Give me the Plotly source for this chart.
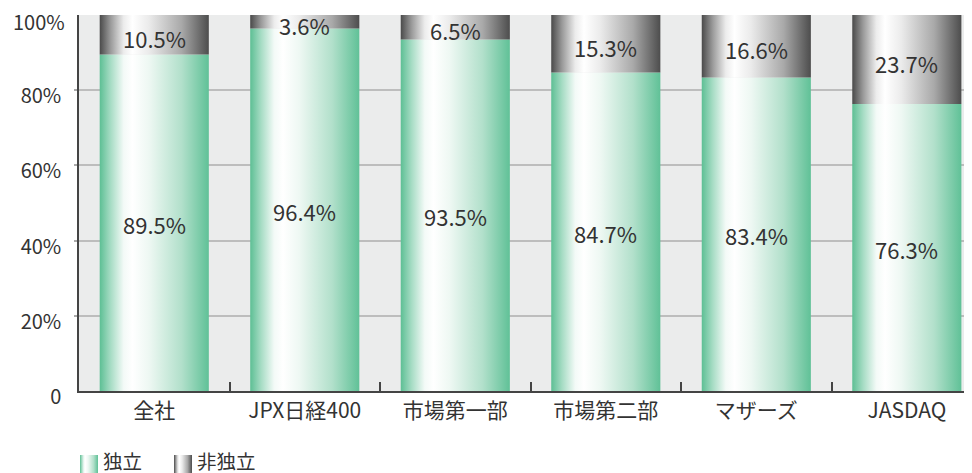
import plotly.graph_objects as go

categories = ["全社", "JPX日経400", "市場第一部", "市場第二部", "マザーズ", "JASDAQ"]
independent = [89.5, 96.4, 93.5, 84.7, 83.4, 76.3]
non_independent = [10.5, 3.6, 6.5, 15.3, 16.6, 23.7]
series_names = ["独立", "非独立"]
y_ticks = [0, 20, 40, 60, 80]
y_ticktext = ["0", "20%", "40%", "60%", "80%"]
y_top_tick = (100, "100%")
grid_vals = [20, 40, 60, 80]

FONT = "Noto Sans CJK JP"
BAR_W = 0.725
TXT = "#333333"

green_scale = [[0.0, "#5dbf94"], [0.1, "#a6dcc4"], [0.22, "#f3faf7"], [0.3, "#ffffff"],
               [0.45, "#eef8f3"], [0.75, "#b2e0cb"], [1.0, "#60c197"]]
gray_scale = [[0.0, "#4a4a4a"], [0.1, "#9a9a9a"], [0.22, "#ececec"], [0.3, "#ffffff"],
              [0.45, "#ebebeb"], [0.75, "#a9a9a9"], [1.0, "#4d4d4d"]]
scales = [green_scale, gray_scale]

fig = go.Figure()

for i, cat in enumerate(categories):
    x0, x1 = i - BAR_W / 2, i + BAR_W / 2
    v = independent[i]
    top = v + non_independent[i]
    fig.add_trace(go.Scatter(
        x=[x0, x1, x1, x0, x0], y=[0, 0, v, v, 0], mode="lines",
        fill="toself", line=dict(width=0, color="#60c197"),
        fillgradient=dict(type="horizontal", colorscale=green_scale),
        name=series_names[0], showlegend=False, hoverinfo="skip"))
    fig.add_trace(go.Scatter(
        x=[x0, x1, x1, x0, x0], y=[v, v, top, top, v], mode="lines",
        fill="toself", line=dict(width=0, color="#4d4d4d"),
        fillgradient=dict(type="horizontal", colorscale=gray_scale),
        name=series_names[1], showlegend=False, hoverinfo="skip"))

# value labels
for i in range(len(categories)):
    fig.add_annotation(x=i, y=independent[i] / 2, xref="x", yref="y",
                       text=f"{independent[i]:.1f}%", showarrow=False, yshift=-1,
                       font=dict(family=FONT, size=22, color=TXT))
    fig.add_annotation(x=i, y=independent[i] + non_independent[i] / 2, xref="x", yref="y",
                       text=f"{non_independent[i]:.1f}%", showarrow=False, yshift=-3,
                       font=dict(family=FONT, size=22, color=TXT))

# page body has an 8px margin; figure coordinates are page coordinates minus 8
OFF = 8
W, H = 972 - OFF, 473 - OFF
L = 79 - OFF
T = 15 - OFF
plot_bottom = 391 - OFF
paper_h = H - T

# top tick label (as annotation so it is not dropped at the range edge)
fig.add_annotation(x=0, xref="paper", xshift=-12, y=y_top_tick[0], yref="y",
                   yshift=-6, text=y_top_tick[1], showarrow=False,
                   xanchor="right", yanchor="middle",
                   font=dict(family=FONT, size=20, color=TXT))

# custom legend (gradient swatches) on a helper axis in pixel-like units
legend_x = [80 - OFF, 174 - OFF]
sw_w = 18
for k, name in enumerate(series_names):
    lx = legend_x[k]
    fig.add_trace(go.Scatter(
        x=[lx, lx + sw_w, lx + sw_w, lx, lx], y=[0, 0, 18, 18, 0], mode="lines",
        fill="toself", line=dict(width=0),
        fillgradient=dict(type="horizontal", colorscale=scales[k]),
        xaxis="x2", yaxis="y2", showlegend=False, hoverinfo="skip"))
    fig.add_annotation(x=lx + sw_w + 3, y=13, xref="x2", yref="y2", text=name,
                       showarrow=False, xanchor="left", yanchor="middle",
                       font=dict(family=FONT, size=19.5, color=TXT))

fig.update_layout(
    width=W, height=H,
    margin=dict(l=L, r=0, t=T, b=0, autoexpand=False),
    paper_bgcolor="white", plot_bgcolor="rgba(0,0,0,0)",
    font=dict(family=FONT, size=19, color=TXT),
    showlegend=False,
    shapes=[dict(type="rect", xref="x domain", yref="y domain", x0=0, x1=1, y0=0, y1=1,
                 fillcolor="#ebecec", line=dict(width=0), layer="below")],
    xaxis=dict(
        domain=[0, 1], anchor="y",
        range=[-0.5, 5.433], tickmode="array",
        tickvals=list(range(len(categories))), ticktext=categories,
        ticks="", showgrid=False, zeroline=False,
        showline=True, linecolor="#444444", linewidth=1.5,
        tickfont=dict(family=FONT, size=21, color=TXT),
        minor=dict(tickmode="array", tickvals=[i + 0.5 for i in range(len(categories) - 1)],
                   ticks="inside", ticklen=9, tickcolor="#444444", tickwidth=1.5, showgrid=False),
        fixedrange=True),
    yaxis=dict(
        domain=[(H - plot_bottom) / paper_h, 1], anchor="x",
        range=[0, 100], tickmode="array", tickvals=y_ticks, ticktext=y_ticktext,
        showgrid=False, zeroline=False,
        showline=True, linecolor="#444444", linewidth=1.5,
        ticks="", ticklabelstandoff=12, ticklabelshift=6,
        tickfont=dict(family=FONT, size=20, color=TXT),
        minor=dict(tickmode="array", tickvals=grid_vals, showgrid=True,
                   gridcolor="#bdbdbd", gridwidth=2,
                   ticks="outside", ticklen=3, tickcolor="#aaaaaa", tickwidth=2),
        fixedrange=True),
    xaxis2=dict(domain=[0, 1], anchor="y2", range=[L, W], visible=False, fixedrange=True),
    yaxis2=dict(domain=[0, 24 / paper_h], anchor="x2", range=[0, 24], visible=False,
                fixedrange=True),
)

fig.write_html("out.html")
